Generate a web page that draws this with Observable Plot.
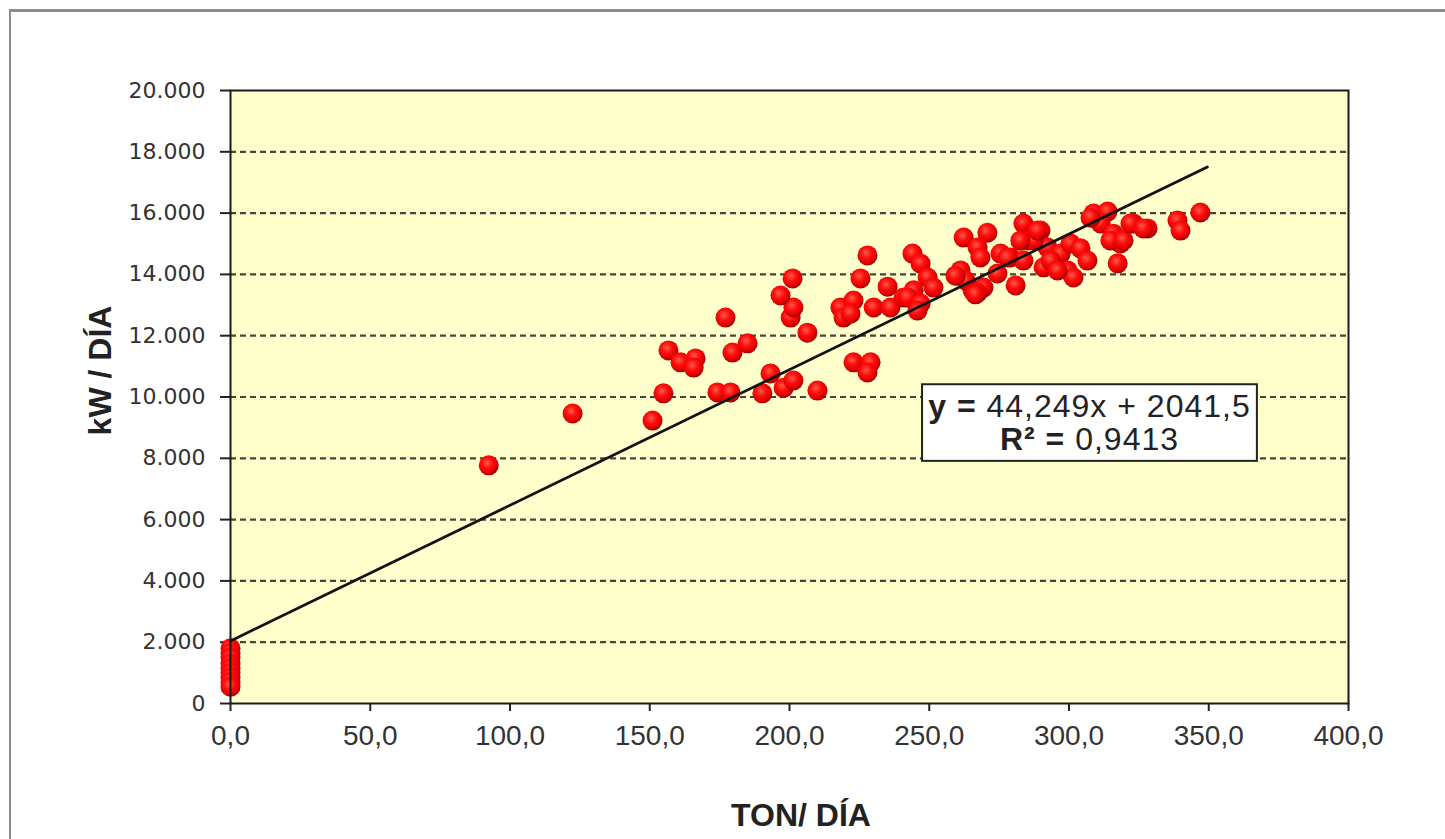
<!DOCTYPE html>
<html>
<head>
<meta charset="utf-8">
<script src="https://cdn.jsdelivr.net/npm/d3@7"></script>
<script src="https://cdn.jsdelivr.net/npm/@observablehq/plot@0.6"></script>
<style>
  html, body { margin: 0; padding: 0; background: #fff; overflow: hidden; }
  #wrap { position: relative; width: 1445px; height: 839px; overflow: hidden; background: #fff; }
  #chart { position: absolute; left: 0; top: 0; }
  #frame { position: absolute; left: 9px; top: 9px; width: 1500px; height: 900px;
           border-left: 2px solid #8c8c8c; border-top: 3px solid #8c8c8c; pointer-events: none; }
</style>
</head>
<body>
<div id="wrap"><div id="chart"></div><div id="frame"></div></div>
<script>
// ---- data ----
const xTicks = [0, 50, 100, 150, 200, 250, 300, 350, 400];
const yTicks = [0, 2000, 4000, 6000, 8000, 10000, 12000, 14000, 16000, 18000, 20000];

const tonDia = [
  0, 0, 0, 0, 0, 0, 0, 0, 0,
  92.4, 122.4, 151.0, 154.9, 156.7, 161.0, 166.4, 165.7, 174.2, 178.9,
  177.1, 179.6, 185.0, 190.3, 193.2, 197.9, 201.4, 210.0, 200.4, 201.4,
  196.8, 201.1, 206.4, 218.2, 219.3, 222.9, 221.8, 230.1, 236.1, 235.1,
  227.9, 225.4, 222.9, 229.0, 227.9, 240.8, 244.0, 246.9, 249.4, 251.5,
  244.4, 242.2, 246.9, 245.8, 262.3, 270.8, 267.3, 268.3, 261.2, 265.5,
  269.4, 263.0, 267.3, 274.4, 275.5, 279.1, 283.7, 280.9, 283.7, 289.8,
  285.2, 292.3, 290.9, 297.0, 300.5, 304.1, 299.5, 301.6, 306.6, 308.8,
  313.8, 311.3, 315.9, 318.4, 317.4, 323.1, 328.1, 338.8, 339.9, 347.0,
  287.3, 288.7, 293.4, 295.9, 307.7, 314.8, 319.5, 322.0, 326.6, 278.0,
  282.6, 266.5, 259.4
];
const kwDia = [
  1800, 1650, 1500, 1300, 1150, 1000, 850, 700, 550,
  7770, 9460, 9230, 10120, 11520, 11130, 11260, 10960, 10150, 10150,
  12590, 11450, 11750, 10120, 10770, 10300, 10540, 10210, 12590, 12920,
  13310, 13870, 12100, 12920, 12590, 13150, 12720, 12920, 12920, 13600,
  14620, 13870, 11130, 11130, 10800, 13250, 14680, 14350, 13900, 13570,
  13480, 13250, 13050, 12820, 15200, 15360, 14880, 14550, 14130, 13480,
  13570, 13800, 13400, 14030, 14680, 14550, 14450, 13640, 15660, 15430,
  15110, 14880, 14230, 14680, 15010, 14850, 14130, 13900, 14450, 15990,
  16050, 15660, 15330, 15010, 14360, 15660, 15500, 15760, 15430, 16020,
  15110, 15430, 14450, 14130, 15850, 15110, 15110, 15660, 15500, 14550,
  15100, 13350, 13960
];

// trendline as displayed in the chart
const slope = 44.249;
const intercept = 2041.5;
const trendRange = [0, 349.5];
const eqBold = ["y = ", "R² = "];
const eqText = ["44,249x + 2041,5", "0,9413"];
const eqBox = [{x1: 247.6, x2: 367.4, y1: 7900, y2: 10400}];
const eqAnchor = {x: 307.5, y: [9330, 8250]};

const xTitle = "TON/ DÍA";
const yTitle = "kW / DÍA";

// ---- build ----
const points = tonDia.map((t, i) => ({ton: t, kw: kwDia[i]}));
const trend = trendRange.map(t => ({ton: t, kw: slope * t + intercept}));

const fmtX = d => d.toFixed(1).replace(".", ",");
const fmtY = d => d3.format(",")(d).replace(/,/g, ".");

const plot = Plot.plot({
  width: 1445,
  height: 839,
  marginLeft: 230,
  marginRight: 97,
  marginTop: 90,
  marginBottom: 136,
  style: {background: "transparent", fontFamily: "Liberation Sans, Arial, sans-serif"},
  x: {domain: [0, 400], ticks: xTicks, tickFormat: fmtX, tickSize: 8, tickPadding: 14, label: null},
  y: {domain: [0, 20000], ticks: yTicks, tickFormat: fmtY, tickSize: 10, tickPadding: 15, label: null},
  marks: [
    Plot.frame({fill: "#FFFFCC", stroke: "none"}),
    Plot.ruleY(yTicks.filter(d => d > 0 && d < 20000), {stroke: "#45453b", strokeWidth: 2.2, strokeDasharray: "6,4"}),
    Plot.dot(points, {x: "ton", y: "kw", r: 10, fill: "url(#redball)", stroke: "none"}),
    Plot.line(trend, {x: "ton", y: "kw", stroke: "#111", strokeWidth: 2.8}),
    Plot.frame({stroke: "#1a1a1a", strokeWidth: 2}),
    Plot.rect(eqBox, {x1: "x1", x2: "x2", y1: "y1", y2: "y2", fill: "#fff", stroke: "#222", strokeWidth: 2})
  ]
});

document.getElementById("chart").appendChild(plot);

const svg = d3.select(plot);
// gradient for the ball markers
const defs = svg.insert("defs", ":first-child");
const grad = defs.append("radialGradient").attr("id", "redball")
  .attr("cx", "42%").attr("cy", "38%").attr("r", "62%");
grad.append("stop").attr("offset", "0%").attr("stop-color", "#ff5a48");
grad.append("stop").attr("offset", "45%").attr("stop-color", "#ff0d0d");
grad.append("stop").attr("offset", "82%").attr("stop-color", "#dd0000");
grad.append("stop").attr("offset", "100%").attr("stop-color", "#9a0000");

// axis styling
svg.selectAll('[aria-label^="x-axis"] text')
  .style("font-family", "Liberation Sans, Arial, sans-serif")
  .style("font-size", "28px").attr("fill", "#333");
svg.selectAll('[aria-label^="y-axis"] text')
  .style("font-family", "DejaVu Sans, Verdana, sans-serif")
  .style("font-size", "22px").attr("fill", "#333");
svg.selectAll('[aria-label^="x-axis"] path, [aria-label^="y-axis"] path')
  .attr("stroke", "#222").attr("stroke-width", 2);
svg.selectAll('[aria-label^="x-axis"] line, [aria-label^="y-axis"] line')
  .attr("stroke", "#222").attr("stroke-width", 2);

// equation text
const sx = plot.scale("x"), sy = plot.scale("y");
eqText.forEach((t, i) => {
  const tx = svg.append("text")
    .attr("x", sx.apply(eqAnchor.x)).attr("y", sy.apply(eqAnchor.y[i]))
    .attr("text-anchor", "middle")
    .style("font-family", "Liberation Sans, Arial, sans-serif")
    .style("font-size", "32px").style("letter-spacing", "1px")
    .attr("fill", "#222");
  tx.append("tspan").attr("font-weight", "bold").text(eqBold[i]);
  tx.append("tspan").text(t);
});

// axis titles
const [xr0, xr1] = sx.range, [yr0, yr1] = sy.range;
svg.append("text")
  .attr("x", (xr0 + xr1) / 2 + 12).attr("y", 826)
  .attr("text-anchor", "middle")
  .style("font-family", "Liberation Sans, Arial, sans-serif")
  .style("font-size", "32px").attr("font-weight", "bold").attr("fill", "#222")
  .text(xTitle);
svg.append("text")
  .attr("transform", `translate(111, ${(yr0 + yr1) / 2 - 26}) rotate(-90)`)
  .attr("text-anchor", "middle")
  .style("font-family", "Liberation Sans, Arial, sans-serif")
  .style("font-size", "32px").attr("font-weight", "bold").attr("fill", "#222")
  .text(yTitle);
</script>
</body>
</html>
